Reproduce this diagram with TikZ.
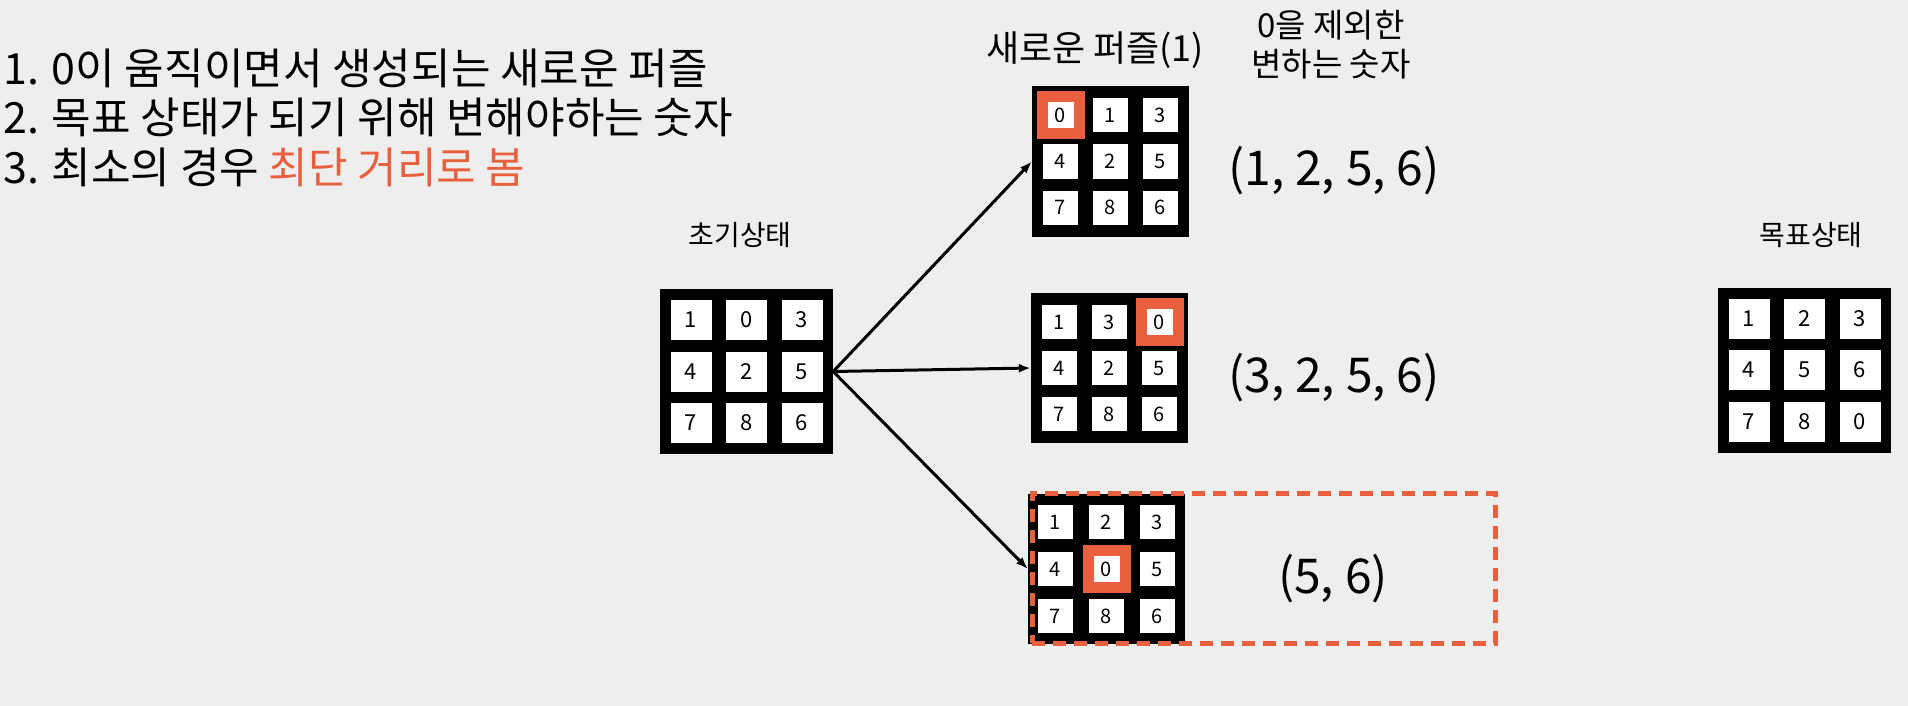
\documentclass[tikz,border=0pt]{standalone}
\usepackage{fontspec}
\setmainfont{Noto Sans CJK KR}
\usetikzlibrary{arrows.meta,calc,positioning}
\definecolor{accent}{HTML}{E9603F}
\definecolor{paper}{HTML}{EEEEEE}

\begin{document}
\begin{tikzpicture}[x=1pt, y=-1pt,
			board/.style={board #1},
			board big/.style={fill=black, minimum width=173pt, minimum height=165pt, inner sep=0pt},
			board small/.style={fill=black, minimum width=157pt, minimum height=150pt, inner sep=0pt},
			tile/.style={tile #1},
			tile big/.style={fill=white, minimum width=41pt, minimum height=40pt, inner sep=0pt, font=\fontsize{22}{22}\selectfont},
			tile small/.style={fill=white, minimum width=35pt, minimum height=34pt, inner sep=0pt, font=\fontsize{20}{20}\selectfont},
			gap/.style={fill=accent, minimum size=48pt, inner sep=0pt},
			gapin/.style={fill=white, minimum size=26pt, inner sep=0pt, font=\fontsize{20}{20}\selectfont},
			title/.style={font=\fontsize{28}{28}\selectfont, anchor=base, inner sep=0pt},
			note/.style={font=\fontsize{43}{43}\selectfont, anchor=base west, inner sep=0pt},
			diff/.style={font=\fontsize{48}{48}\selectfont, anchor=base, inner sep=0pt},
			move/.style={-{Latex[length=12pt,width=9pt]}, line width=3pt}]
			\fill[paper] (0,0) rectangle (1908,706);
			\useasboundingbox (0,0) rectangle (1908,706);
			% notes
			\node[note] (note1) at (3,85) {1. 0이 움직이면서 생성되는 새로운 퍼즐};
			\node[note] (note2) at (3,134) {2. 목표 상태가 되기 위해 변해야하는 숫자};
			\node[note] (note3) at (3,183) {3. 최소의 경우 \textcolor{accent}{최단 거리로 봄}};
			% puzzles
			\foreach \g/\cx/\cy/\sz/\dx/\dy/\blank/\nums in {
				init/746.5/371.5/big/55.5/51.5/-1/{1,0,3,4,2,5,7,8,6},
				goal/1804.5/370/big/55.5/51.5/-1/{1,2,3,4,5,6,7,8,0},
				new1/1110.5/161.5/small/50/46/0/{0,1,3,4,2,5,7,8,6},
				new2/1109.5/368/small/50/46/2/{1,3,0,4,2,5,7,8,6},
				new3/1106.5/569/small/51/47/4/{1,2,3,4,0,5,7,8,6}} {
				\node[board=\sz] (\g) at (\cx,\cy) {};
				\foreach \n [count=\i from 0] in \nums {
					\pgfmathtruncatemacro\col{mod(\i,3)-1}
					\pgfmathtruncatemacro\row{int(\i/3)-1}
					\ifnum\i=\blank
						\node[gap] (\g-\i) at ($(\g)+(\col*\dx,\row*\dy)$) {};
						\node[gapin] at (\g-\i) {\n};
					\else
						\node[tile=\sz] (\g-\i) at ($(\g)+(\col*\dx,\row*\dy)$) {\n};
					\fi
				}
			}
			\node[title] (initlab) at (740,245) {초기상태};
			\node[title] (goallab) at (1811,245) {목표상태};
			\node[title, font=\fontsize{36}{36}\selectfont] (newlab) at (1095,62) {새로운 퍼즐(1)};
			\node[font=\fontsize{33}{39}\selectfont, align=center, inner sep=0pt] (difflab) at (1331,45) {0을 제외한\\변하는 숫자};
			\node[diff] (diff1) at (1334,185) {(1, 2, 5, 6)};
			\node[diff] (diff2) at (1334,392) {(3, 2, 5, 6)};
			\node[diff] (diff3) at (1333,593) {(5, 6)};
			\draw[move] (init.east) -- (new1.west);
			\draw[move] (init.east) -- (new2.west);
			\draw[move] (init.east) -- (new3.west);
			\node[draw=accent, line width=5pt, dash pattern=on 13pt off 8pt, minimum width=463pt, minimum height=150pt, inner sep=0pt] (best) at (1263.5,568) {};
		\end{tikzpicture}
\end{document}
